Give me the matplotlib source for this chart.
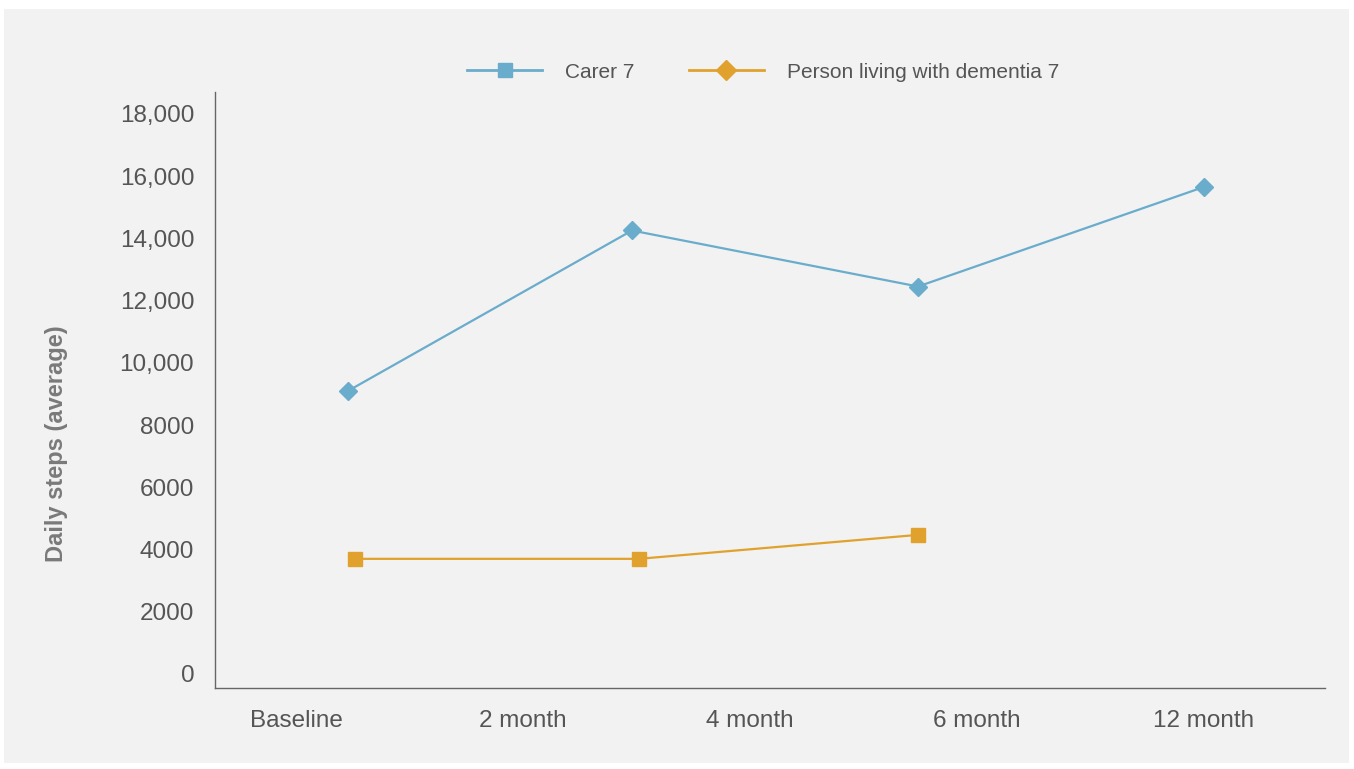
import matplotlib.pyplot as plt
from matplotlib.patches import Rectangle

# Data
x_labels = ['Baseline', '2 month', '4 month', '6 month', '12 month']
carer_x = [0.23, 1.48, 2.74, 4.0]
carer_steps = [9100, 14250, 12450, 15650]
plwd_x = [0.26, 1.51, 2.74]
plwd_steps = [3700, 3700, 4470]
y_ticks = [0, 2000, 4000, 6000, 8000, 10000, 12000, 14000, 16000, 18000]
y_tick_labels = ['0', '2000', '4000', '6000', '8000', '10,000', '12,000', '14,000', '16,000', '18,000']

blue = '#6aaccb'
orange = '#e0a22d'
text_col = '#555555'

plt.rcParams['font.family'] = ['Liberation Sans', 'DejaVu Sans']

fig = plt.figure(figsize=(13.54, 7.69), dpi=100)
fig.patch.set_facecolor('white')
bg = Rectangle((4 / 1354, 1 - 763 / 769), 1345 / 1354, 754 / 769,
               transform=fig.transFigure, facecolor='#f2f2f2',
               edgecolor='none', zorder=-10)
fig.add_artist(bg)

ax = fig.add_axes([215 / 1354, 1 - 688 / 769, 1110 / 1354, 596 / 769])
ax.set_facecolor('none')
ax.set_zorder(2)

ax.plot(carer_x, carer_steps, color=blue, lw=1.6, marker='D', ms=9.5,
        clip_on=False, zorder=3)
ax.plot(plwd_x, plwd_steps, color=orange, lw=1.6, marker='s', ms=9.5,
        clip_on=False, zorder=3)

ax.set_xlim(-0.357, 4.533)
ax.set_ylim(-450, 18700)
ax.set_xticks(range(len(x_labels)))
ax.set_xticklabels(x_labels)
ax.set_yticks(y_ticks)
ax.set_yticklabels(y_tick_labels)
ax.tick_params(length=0, labelsize=17.5, labelcolor=text_col)
ax.tick_params(axis='x', pad=16)
ax.tick_params(axis='y', pad=15)

for s in ['top', 'right']:
    ax.spines[s].set_visible(False)
for s in ['left', 'bottom']:
    ax.spines[s].set_color('#666666')
    ax.spines[s].set_linewidth(1.0)

fig.text(56 / 1354, 1 - 444 / 769, 'Daily steps (average)', rotation=90,
         ha='center', va='center', fontsize=17, fontweight='bold', color='#7a7a7a')

# Legend (markers swapped as in the original)
h1, = ax.plot([], [], color=blue, lw=2, marker='s', ms=10)
h2, = ax.plot([], [], color=orange, lw=2, marker='D', ms=10)
fig.legend([h1, h2], ['Carer 7', 'Person living with dementia 7'],
           loc='center', bbox_to_anchor=(763 / 1354, 1 - 72 / 769), ncol=2,
           frameon=False, fontsize=15, labelcolor=text_col,
           handlelength=3.6, handletextpad=1.1, columnspacing=2.6)

fig.savefig('out.png', dpi=100)
